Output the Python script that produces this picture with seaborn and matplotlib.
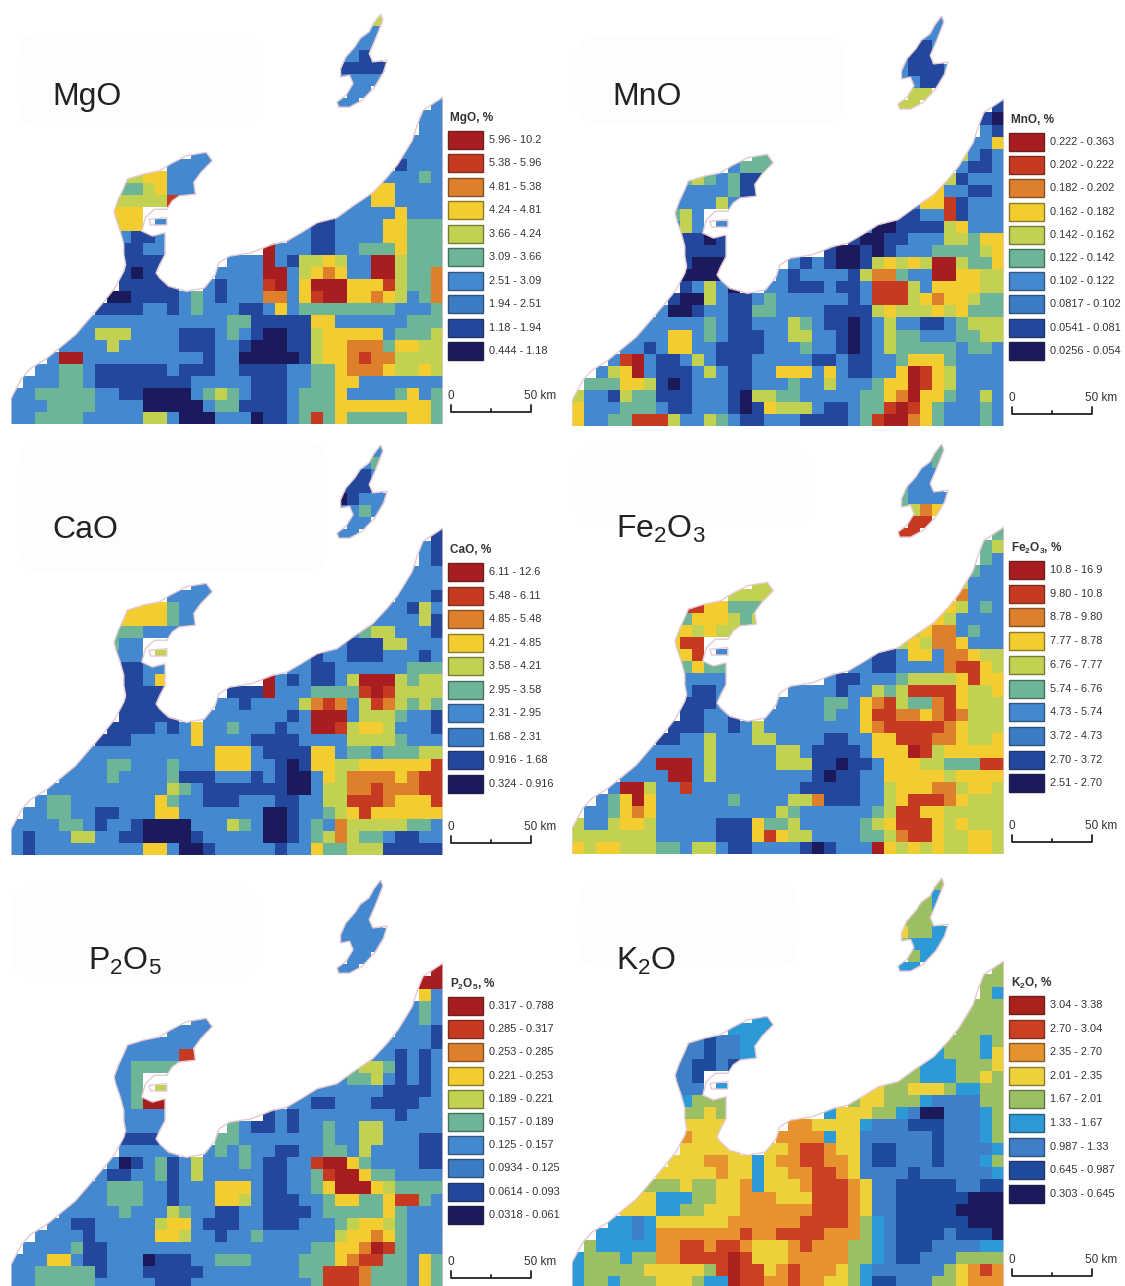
import numpy as np
import seaborn as sns
import matplotlib.pyplot as plt
from matplotlib.colors import ListedColormap
from matplotlib.patches import FancyBboxPatch, PathPatch, Rectangle
from matplotlib.path import Path

# class number of each map cell, 0 = lowest class, '.' = sea
MGO = ["..............................5.....", ".............................33.....", "............................333.....", "...........................3313.....", "...........................11111....", "...........................3333.....", "............................33......", "...........................33......3", "33", "33", "333",
       "...............33...............3333", ".............3333...............1333", ".........5566333...............33343", ".........4456333..............663333", "........5555583.............33663333", "........666................333336333", "........566.33..........311333366444", ".........31133.........3311333366444", ".........11333.......933311334446444", ".........1111.....333931556533995444", ".........1011....3333993567633995447", ".........11111..31333893699966685447", "........0011113431333773689966765347",
       "11113313433311363444444443334", "3333333333333441111166333333444", "3355533331113431001156666634445", "33335333331113310001156677746655", "399333333333313300000156678775555", "3344311111131113311113344677765565", "33344311111111333331113344663333333", "334444433110000345431113444633334634", "333444433330000034411113444666666664", "334444333335530003330113484644444664"]
MNO = ["..............................3.....", ".............................33.....", "............................113.....", "...........................3113.....", "...........................31113....", "...........................3311.....", "............................55......", "...........................55......1", "10", "31", "336",
       "...............44...............5313", ".............3444...............3113", ".........4543411...............51333", ".........3333411..............633113", "........3333533.............36681333", "........453................113381333", "........353.33..........300111156333", ".........11011.........1001133355466", ".........11111.......100101333444456", ".........1000.....313100156565995446", ".........0000....3133331577433996655", ".........13530..33111311388853666655", "........1005311343333331388856766544",
       "30013311443333111156555656444", "3333334311333543110135331134555", "3336634311133553310135443334455", "33136633111133343310135444443443", "389311353111333331131133466643333", "3569311135311336663631133698653333", "44466510133311333433533346698653333", "533154411133310554433333446796643353", "633344431133310165553113448986433343", "633448885335431133311113489976433343"]
CAO = ["..............................3.....", ".............................34.....", "............................113.....", "...........................1113.....", "...........................01333....", "...........................3343.....", "............................33......", "...........................33......1", "31", "31", "333",
       "...............33...............3333", ".............3333...............3331", ".........6666433...............33153", ".........6666433..............333351", "........4443333.............34553331", "........433................311155333", "........333.55..........313311133313", ".........11339.........3311333333444", ".........11369.......931311359995455", ".........1111.....111933344448985555", ".........1111....3313333578735875454", ".........11111..33333331399935554331", "........1111313633433313399856653331",
       "11133333633331111333355554333", "3333333333336663111166344344455", "3334433343336663310166556666668", "33334333341113331310036577776788", "333333333354311111110035577877788", "3443333333643311133311335588876668", "33443311333663333333001334568666666", "333344313310000333543001343755555443", "313335533110000133333001345754431133", "313333333336630013333313364455511111"]
FE2O3 = ["..............................4.....", ".............................34.....", "............................333.....", "...........................4333.....", "...........................43333....", "...........................4576.....", "............................88......", "...........................88......4", "45", "43", "433",
         "...............55...............5333", ".............5555...............7333", ".........8866444...............65343", ".........4666545..............653333", "........5656555.............56773433", "........688................565776333", "........568.33..........311366377655", ".........46443.........3311333378865", ".........33333.......311333455556866", ".........3113.....333313354588886556", ".........1113....3333443678544786555", ".........11331..33333433688776787555", "........1113313533333333678888876555",
         "11335333553333113366888776556", "3333335333335531111366698566666", "3399935333335551101136665544488", "33339935333333331011336666656666", "399533833333333311111335666775665", "3469633333343333557111335688876555", "33467633333333335433333345886655555", "533566533333111644533333456888656555", "555555533333111686553333445788655665", "656655544355311333310133396565655665"]
P2O5 = ["..............................3.....", ".............................33.....", "............................333.....", "...........................3333.....", "...........................33333....", "...........................3333.....", "............................33......", "...........................33......9", "99", "63", "343",
        "...............33...............3343", ".............3333...............3331", ".........3333333...............33331", ".........3333388..............331313", "........3344443.............45541313", "........334................344531313", "........334.55..........333333311113", ".........34996.........3311333111133", ".........33333.......131333333331333", ".........3333.....431131334335533333", ".........1111....4433333334335533311", ".........33333..34343311334435333311", "........3013413533343113389964333311",
        "31133413533333113348996443333", "3334443313336663113346999654444", "3334443313336653111334664468843", "33333433354331133111134444464333", "331133333566311133111333456654333", "3333133333665331334333333566764333", "33334113333333333333333344667984333", "333663113330111334443333444678844364", "334444413331111133333333448887444364", "334444433333111333333333348887444364"]
K2O = ["..............................4.....", ".............................43.....", "............................443.....", "...........................4444.....", "...........................54433....", "...........................4333.....", "............................433.....", "...........................33......4", "44", "43", "444",
       "...............33...............4444", ".............3333...............4444", ".........2212233...............44434", ".........2212233..............344435", "........2211213.............43334445", "........221................443334454", "........222.33..........554455543344", ".........34444.........4554443222244", ".........44544.......355544320022234", ".........5555.....665555322211122234", ".........6555....6666355222222122234", ".........55555..55677655211222122223", "........5556655356677665211222122234",
       "55555655355667765222212222223", "5444544556355567776522111112211", "5533344556665557776522111111000", "55533445556666667776522111110000", "332355555566666677776432111111000", "3332366666667667777666432111121110", "43333366776776555676664432111222233", "344434466777787555666664432112224444", "344444555554787756766654322222245676", "344344455543387766766554311222445666"]

# legend classes, highest first
MGO_LABELS = ["5.96 - 10.2", "5.38 - 5.96", "4.81 - 5.38", "4.24 - 4.81", "3.66 - 4.24", "3.09 - 3.66", "2.51 - 3.09", "1.94 - 2.51", "1.18 - 1.94", "0.444 - 1.18"]
MNO_LABELS = ["0.222 - 0.363", "0.202 - 0.222", "0.182 - 0.202", "0.162 - 0.182", "0.142 - 0.162", "0.122 - 0.142", "0.102 - 0.122", "0.0817 - 0.102", "0.0541 - 0.081", "0.0256 - 0.054"]
CAO_LABELS = ["6.11 - 12.6", "5.48 - 6.11", "4.85 - 5.48", "4.21 - 4.85", "3.58 - 4.21", "2.95 - 3.58", "2.31 - 2.95", "1.68 - 2.31", "0.916 - 1.68", "0.324 - 0.916"]
FE_LABELS = ["10.8 - 16.9", "9.80 - 10.8", "8.78 - 9.80", "7.77 - 8.78", "6.76 - 7.77", "5.74 - 6.76", "4.73 - 5.74", "3.72 - 4.73", "2.70 - 3.72", "2.51 - 2.70"]
P_LABELS = ["0.317 - 0.788", "0.285 - 0.317", "0.253 - 0.285", "0.221 - 0.253", "0.189 - 0.221", "0.157 - 0.189", "0.125 - 0.157", "0.0934 - 0.125", "0.0614 - 0.093", "0.0318 - 0.061"]
K_LABELS = ["3.04 - 3.38", "2.70 - 3.04", "2.35 - 2.70", "2.01 - 2.35", "1.67 - 2.01", "1.33 - 1.67", "0.987 - 1.33", "0.645 - 0.987", "0.303 - 0.645"]

COLORS_10 = ['#1b1a5c', '#23479c', '#3b7cc4', '#4489cf', '#6db596', '#c3d152', '#f3cd2f', '#dd7f2b', '#c73a22', '#a81e20']
COLORS_9 = ['#1b1a5c', '#1f4b9d', '#3f7fc8', '#2c9ad6', '#9cbf63', '#edd13a', '#e6932f', '#cb4022', '#a9221c']

# shoreline, traced on the MgO map
COAST_X = [30, 30, 60, 85, 130, 170, 210, 250, 290, 320, 345, 350, 345, 345, 335, 322, 318, 330, 345, 355, 400, 445, 475, 520, 575, 592, 560, 540, 545, 500, 480, 465, 430, 405, 395, 425, 460, 460, 445, 435, 445, 470, 520, 570, 600, 610, 640, 700, 760, 800, 840, 885, 940, 985, 1040, 1080, 1110, 1150, 1165, 1180, 1236, 1236]
COAST_Y = [1275, 1190, 1130, 1100, 1070, 1035, 1000, 950, 900, 860, 810, 790, 760, 730, 690, 650, 630, 595, 560, 535, 520, 510, 490, 465, 455, 480, 515, 545, 580, 585, 600, 625, 625, 650, 690, 705, 695, 760, 790, 815, 830, 855, 870, 860, 820, 785, 765, 755, 730, 720, 695, 665, 650, 615, 575, 530, 490, 420, 370, 330, 290, 1275]
SADO_X = [1062, 1042, 1030, 1005, 990, 965, 950, 950, 975, 985, 965, 940, 945, 975, 1010, 1045, 1070, 1080, 1040, 1030, 1050, 1068]
SADO_Y = [42, 70, 95, 115, 140, 170, 205, 230, 225, 250, 285, 305, 320, 320, 300, 260, 215, 180, 185, 160, 110, 60]
ISLET_X = [415, 465, 465, 420]
ISLET_Y = [655, 650, 672, 672]

# pale smudges behind the titles: left, top, width, height
SMUDGE_LEFT = [18, 575, 18, 575, 12, 578]
SMUDGE_TOP = [32, 36, 442, 446, 886, 882]
SMUDGE_WIDTH = [240, 270, 310, 235, 245, 220]
SMUDGE_HEIGHT = [96, 88, 130, 82, 92, 86]

# name, grid, labels, colours, legend title, x and y offset, title x and y, first legend row, legend step
PANELS = [
    ("MgO", MGO, MGO_LABELS, COLORS_10, "MgO, %", 0, 0, 52, 105, 140, 23.44),
    ("MnO", MNO, MNO_LABELS, COLORS_10, "MnO, %", 561, 2, 612, 105, 142, 23.2),
    ("CaO", CAO, CAO_LABELS, COLORS_10, "CaO, %", 0, 431, 52, 538, 572, 23.55),
    ("Fe$_2$O$_3$", FE2O3, FE_LABELS, COLORS_10, "Fe$_2$O$_3$, %", 561, 430, 616, 538, 570, 23.7),
    ("P$_2$O$_5$", P2O5, P_LABELS, COLORS_10, "P$_2$O$_5$, %", 0, 866, 88, 970, 1006, 23.2),
    ("K$_2$O", K2O, K_LABELS, COLORS_9, "K$_2$O, %", 561, 864, 616, 970, 1005, 23.6),
]

NCOLS = 36
NROWS = 34
W, H = 1125, 1286

sns.set_theme(style="white")
plt.rcParams['font.family'] = ['Liberation Sans', 'DejaVu Sans']
plt.rcParams['mathtext.default'] = 'regular'


def to_grid(rows):
    out = np.full((NROWS, NCOLS), np.nan)
    for i, row in enumerate(rows):
        if '.' in row and len(row) != NCOLS:
            raise ValueError(f"row {i} has length {len(row)}")
        for j, ch in enumerate(row.rjust(NCOLS, '.')):
            if ch != '.':
                out[i, j] = int(ch)
    return out


def ring(xs, ys):
    col = (np.array(xs) - 30) / 33.5
    row = (np.array(ys) - 42) / 36
    pts = np.column_stack([col, row])
    pts = np.vstack([pts, pts[0]])
    codes = [Path.MOVETO] + [Path.LINETO] * (len(pts) - 2) + [Path.CLOSEPOLY]
    return Path(pts, codes)


land = Path.make_compound_path(ring(COAST_X, COAST_Y), ring(SADO_X, SADO_Y), ring(ISLET_X, ISLET_Y))

fig = plt.figure(figsize=(W / 100, H / 100), dpi=100)

page = fig.add_axes([0, 0, 1, 1], zorder=5)
page.set_xlim(0, W)
page.set_ylim(H, 0)
page.axis('off')
page.patch.set_alpha(0)

for x, y, w, h in zip(SMUDGE_LEFT, SMUDGE_TOP, SMUDGE_WIDTH, SMUDGE_HEIGHT):
    page.add_patch(FancyBboxPatch((x + 25, y + 25), w - 50, h - 50, boxstyle="round,pad=25",
                                  facecolor='#fcfdfd', edgecolor='none', zorder=0))

for name, rows, labels, colors, legend_title, dx, dy, tx, ty, leg_y, leg_step in PANELS:
    grid = to_grid(rows)
    left, top = 11 + dx, 14 + dy
    ax = fig.add_axes([left / W, 1 - (top + 410) / H, 432 / W, 410 / H])
    sns.heatmap(grid, mask=np.isnan(grid), cmap=ListedColormap(colors), vmin=-0.5, vmax=len(colors) - 0.5,
                cbar=False, xticklabels=False, yticklabels=False, ax=ax)
    ax.collections[0].set_clip_path(land, ax.transData)
    ax.add_patch(PathPatch(land, facecolor='none', edgecolor='#e6c9d2', lw=1.0))
    ax.set_facecolor('white')

    page.text(tx, ty, name, fontsize=23, color='#222222', va='baseline', ha='left')

    # legend
    lx = 448 + dx
    page.text(lx + 2, leg_y - 22, legend_title, fontsize=8.5, fontweight='bold', color='#333333', va='center')
    for k, lab in enumerate(labels):
        c = colors[len(colors) - 1 - k]
        y = leg_y + k * leg_step
        page.add_patch(Rectangle((lx, y - 9), 35, 18, facecolor=c, edgecolor=sns.dark_palette(c, 5)[2], lw=1.0))
        page.text(lx + 41, y, lab, fontsize=7.9, color='#333333', va='center')

    # scale bar
    by = 412 + dy
    sx0, sx1 = 451 + dx, 531 + dx
    page.plot([sx0, sx0, sx1, sx1], [by - 7, by, by, by - 7], color='#222222', lw=1.3)
    page.plot([(sx0 + sx1) / 2] * 2, [by - 3, by], color='#222222', lw=1.3)
    page.text(sx0, by - 16, "0", fontsize=8.5, color='#333333', ha='center', va='center')
    page.text(sx1 - 7, by - 16, "50 km", fontsize=8.5, color='#333333', ha='left', va='center')

fig.savefig("out.png", dpi=100)
